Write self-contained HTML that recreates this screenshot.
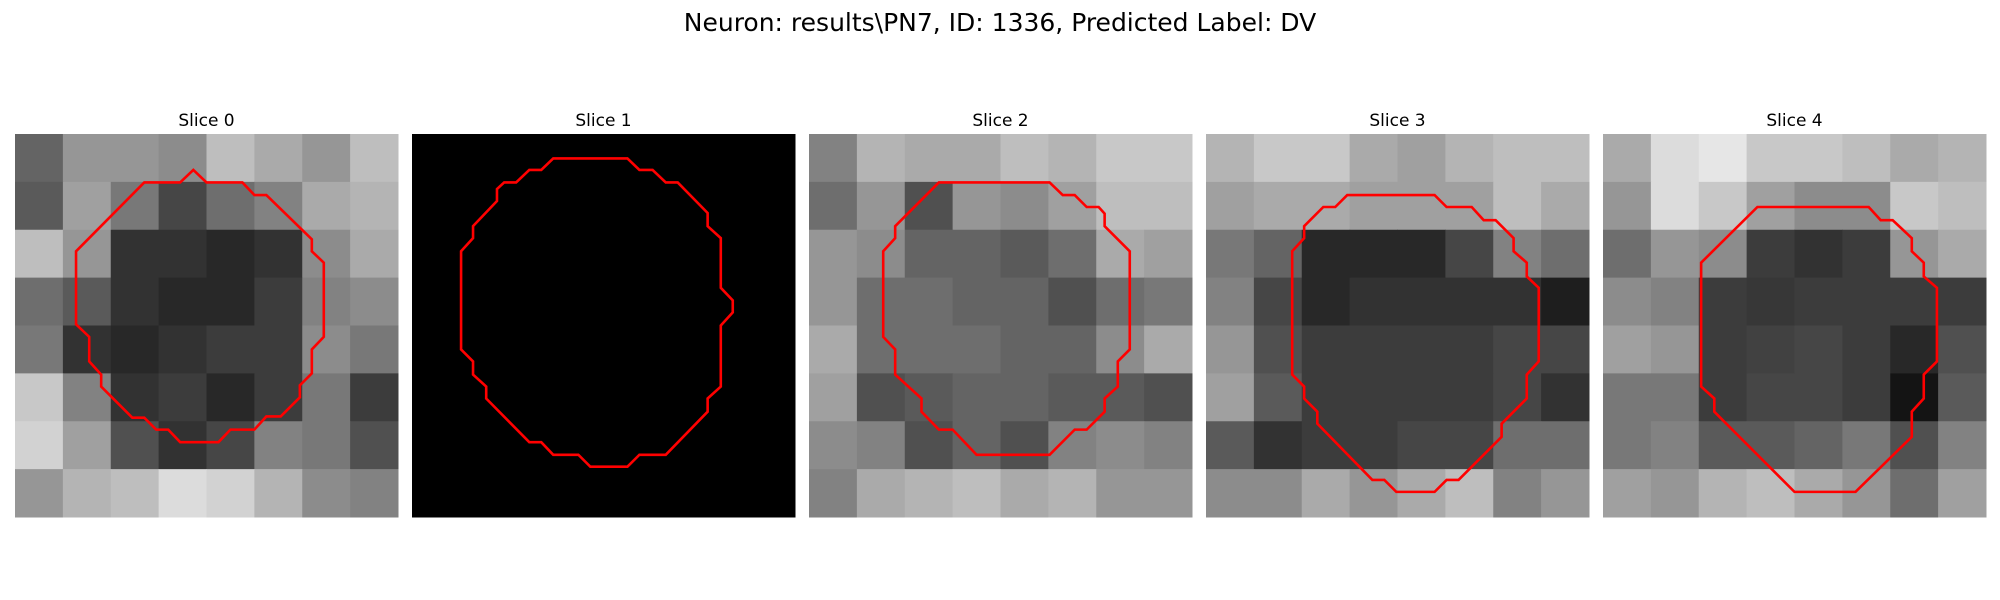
<!DOCTYPE html>
<html><head><meta charset="utf-8"><style>
html,body{margin:0;padding:0;background:#fff;width:2000px;height:600px;overflow:hidden}
svg{display:block}
</style></head><body>
<svg id="fig" width="2000" height="600" xmlns="http://www.w3.org/2000/svg">
<text x="1000" y="31" text-anchor="middle" font-family="DejaVu Sans, Liberation Sans, sans-serif" font-size="25" fill="#000">Neuron: results\PN7, ID: 1336, Predicted Label: DV</text>
</svg>
<script>
const sliceTitles = ["Slice 0","Slice 1","Slice 2","Slice 3","Slice 4"];
const img0 = [
[100,150,150,140,190,170,150,190],
[90,160,120,70,110,130,170,180],
[190,150,50,50,40,50,140,170],
[110,90,50,40,40,60,130,140],
[120,50,40,50,60,60,140,120],
[200,130,50,60,40,60,120,60],
[210,160,80,50,70,130,120,80],
[150,180,190,220,210,180,140,130]];
const img1 = [
[0,0,0,0,0,0,0,0],[0,0,0,0,0,0,0,0],[0,0,0,0,0,0,0,0],[0,0,0,0,0,0,0,0],
[0,0,0,0,0,0,0,0],[0,0,0,0,0,0,0,0],[0,0,0,0,0,0,0,0],[0,0,0,0,0,0,0,0]];
const img2 = [
[130,180,170,170,190,180,200,200],
[110,150,80,150,140,160,190,190],
[150,140,100,100,90,110,170,160],
[150,110,110,100,100,80,110,120],
[170,110,110,110,100,100,140,170],
[160,80,90,100,100,90,90,80],
[140,130,80,100,80,130,140,130],
[130,170,180,190,170,180,150,150]];
const img3 = [
[180,200,200,170,160,180,190,190],
[160,170,170,160,160,160,190,170],
[120,100,40,40,40,70,130,110],
[130,70,40,50,50,50,50,30],
[150,80,60,60,60,60,70,70],
[160,90,60,60,60,60,70,50],
[90,50,60,60,70,70,110,110],
[140,140,170,150,170,190,130,150]];
const img4 = [
[170,220,230,200,200,190,170,180],
[150,220,200,160,140,140,200,190],
[110,150,140,60,50,60,150,170],
[140,130,60,55,60,60,60,60],
[160,150,60,65,70,60,40,80],
[120,120,60,70,70,60,20,90],
[120,130,90,90,100,120,80,130],
[160,150,180,190,170,150,110,160]];
const images = [img0,img1,img2,img3,img4];
const contour0 = [[10.8,4.05],[13.8,4.05],[14.9,3],[16,4.05],[19,4.05],[20,5.1],[21,5.1],[24.8,8.8],[24.8,9.8],[25.8,10.75],[25.8,16.95],[24.8,18],[24.8,20],[23.8,21],[23.8,22],[22.2,23.6],[21,23.6],[20,24.7],[18,24.7],[17,25.75],[13.8,25.75],[12.8,24.7],[11.8,24.7],[10.8,23.7],[9.8,23.7],[7.2,21.1],[7.2,20.1],[6.2,19],[6.2,16.95],[5.1,15.9],[5.1,9.8]];
const contour1 = [[11.8,2.04],[18,2.04],[19,3],[20.1,3],[21.2,4.05],[22.2,4.05],[24.7,6.6],[24.7,7.7],[25.8,8.7],[25.8,12.85],[26.8,13.9],[26.8,14.9],[25.8,16],[25.8,21.1],[24.7,22.1],[24.7,23.2],[21.2,26.8],[19,26.8],[18,27.8],[14.9,27.8],[13.9,26.8],[11.8,26.8],[10.8,25.75],[9.8,25.75],[6.2,22.1],[6.2,21.1],[5.1,20.1],[5.1,19],[4.1,18],[4.1,9.8],[5.1,8.7],[5.1,7.7],[7.1,5.6],[7.1,4.6],[7.7,4.05],[8.7,4.05],[9.8,3],[10.8,3]];
const contour2 = [[10.85,4.05],[20.1,4.05],[21.2,5.1],[22.2,5.1],[23.2,6.1],[24.2,6.1],[24.7,6.65],[24.7,7.7],[26.8,9.8],[26.8,18],[25.8,19],[25.8,21.1],[24.7,22.1],[24.7,23.2],[23.2,24.7],[22.2,24.7],[20.1,26.8],[14,26.8],[12,24.7],[10.85,24.7],[9.4,23.2],[9.4,22.1],[7.2,20.1],[7.2,18],[6.2,16.95],[6.2,9.8],[7.2,8.7],[7.2,7.7]];
const contour3 = [[11.8,5.1],[19.1,5.1],[20.1,6.1],[22.2,6.1],[23.2,7.2],[24.2,7.2],[25.7,8.7],[25.7,9.8],[26.8,10.75],[26.8,11.9],[27.8,12.85],[27.8,19],[26.8,20.1],[26.8,22.1],[24.7,24.2],[24.7,25.3],[21.1,28.9],[20.1,28.9],[19.1,29.9],[15.9,29.9],[14.9,28.9],[13.9,28.9],[9.3,24.2],[9.3,23.2],[8.2,22.1],[8.2,21.1],[7.2,20.1],[7.2,9.8],[8.2,8.7],[8.2,7.7],[9.8,6.1],[10.8,6.1]];
const contour4 = [[12.9,6.1],[22.2,6.1],[23.2,7.2],[24.2,7.2],[25.8,8.7],[25.8,9.8],[26.8,10.75],[26.8,11.9],[27.9,12.85],[27.9,19],[26.8,20.1],[26.8,22.1],[25.8,23.2],[25.8,25.3],[21.1,29.9],[16,29.9],[9.3,23.2],[9.3,22.1],[8.2,21.1],[8.2,10.75]];
const contours = [contour0,contour1,contour2,contour3,contour4];

const NS = "http://www.w3.org/2000/svg";
const svg = document.getElementById('fig');
const panelX0 = 15, panelStep = 397, panelY = 134, panelSize = 383, gridN = 32;
function cellX(p, v){ return panelX0 + p*panelStep + v*panelSize/gridN; }
function cellY(v){ return panelY + v*panelSize/gridN; }

images.forEach((img, p) => {
  const g = document.createElementNS(NS,'g');
  
  
  svg.appendChild(g);
  const t = document.createElementNS(NS,'text');
  
  
  t.setAttribute('x', cellX(p, gridN/2));
  t.setAttribute('y', 126);
  t.setAttribute('text-anchor','middle');
  t.setAttribute('font-family','DejaVu Sans, Liberation Sans, sans-serif');
  t.setAttribute('font-size','17');
  t.textContent = sliceTitles[p];
  g.appendChild(t);
  const n = img.length, step = gridN / n;
  img.forEach((row, r) => row.forEach((v, c) => {
    const rc = document.createElementNS(NS,'rect');
    
    
    const x0 = cellX(p, c*step), x1 = cellX(p, (c+1)*step);
    const y0 = cellY(r*step), y1 = cellY((r+1)*step);
    rc.setAttribute('x', x0); rc.setAttribute('y', y0);
    rc.setAttribute('width', x1-x0+0.5); rc.setAttribute('height', y1-y0+0.5);
    rc.setAttribute('fill', 'rgb(' + v + ',' + v + ',' + v + ')');
    g.appendChild(rc);
  }));
  const pl = document.createElementNS(NS,'polygon');
  
  
  pl.setAttribute('points', contours[p].map(q => cellX(p,q[0]) + ',' + cellY(q[1])).join(' '));
  pl.setAttribute('fill','none');
  pl.setAttribute('stroke','#ff0000');
  pl.setAttribute('stroke-width','2.6');
  g.appendChild(pl);
});
</script>
</body></html>
